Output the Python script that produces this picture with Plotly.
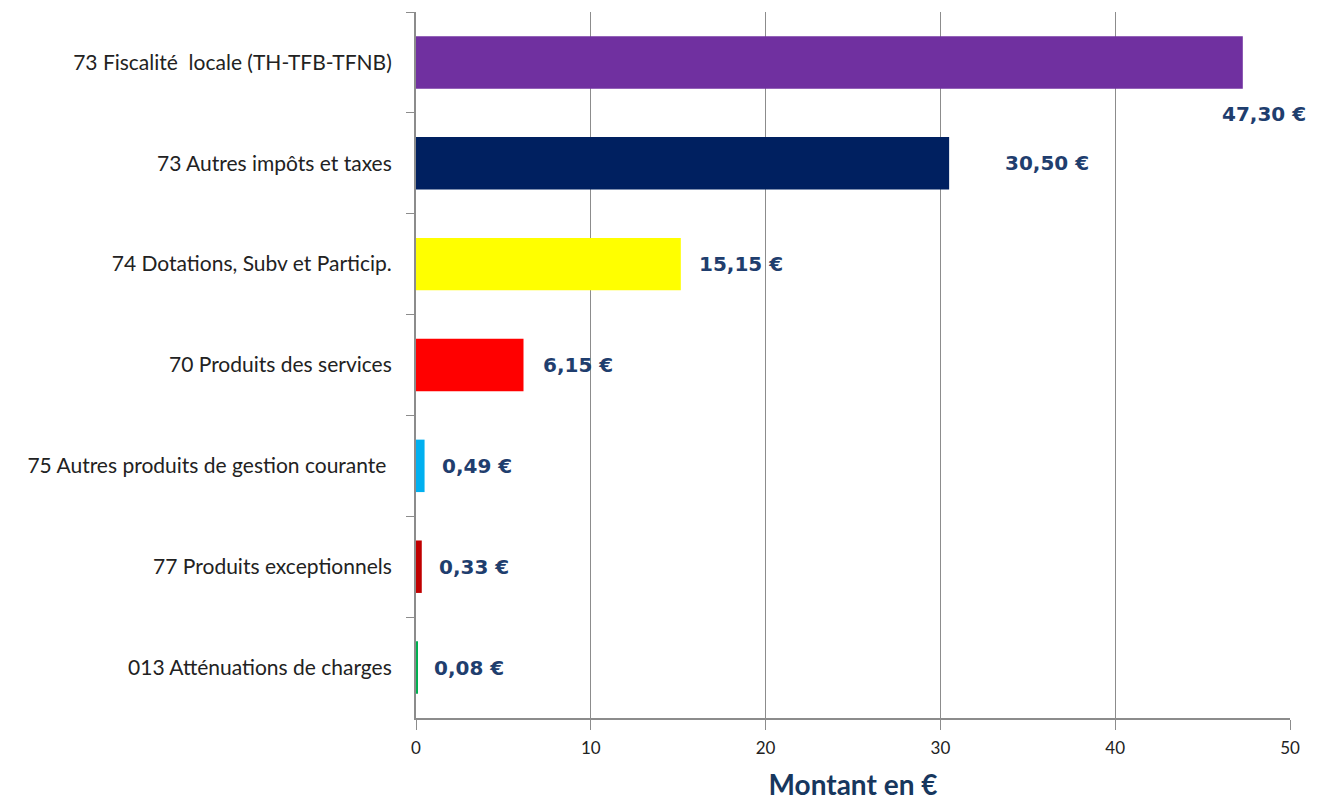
import plotly.graph_objects as go

categories = [
    "73 Fiscalité  locale (TH-TFB-TFNB)",
    "73 Autres impôts et taxes",
    "74 Dotations, Subv et Particip.",
    "70 Produits des services",
    "75 Autres produits de gestion courante ",
    "77 Produits exceptionnels",
    "013 Atténuations de charges",
]
values = [47.30, 30.50, 15.15, 6.15, 0.49, 0.33, 0.08]
value_labels = ["47,30 €", "30,50 €", "15,15 €", "6,15 €", "0,49 €", "0,33 €", "0,08 €"]
tick_values = [0, 10, 20, 30, 40, 50]

bar_colors = ["#7030A0", "#002060", "#FFFF00", "#FF0000", "#00B0F0", "#C00000", "#00B050"]
label_xshift = [-23, 54, 16, 17, 15, 15, 15]
label_yshift = [-52, 0, 0, 0, 0, 0, 0]

fig = go.Figure()
fig.add_trace(go.Bar(
    x=values, y=categories, orientation="h",
    marker=dict(color=bar_colors, line=dict(width=0)),
    width=0.52, hoverinfo="skip",
))

for v, c, t, xs, ys in zip(values, categories, value_labels, label_xshift, label_yshift):
    fig.add_annotation(
        x=v, y=c, text=t, showarrow=False, xanchor="left", yanchor="middle",
        xshift=xs, yshift=ys,
        font=dict(family="DejaVu Sans, sans-serif", size=20, color="#1F3E6E", weight="bold"),
    )

fig.update_layout(
    width=1324, height=800,
    margin=dict(l=408, r=42, t=4, b=90, autoexpand=False),
    paper_bgcolor="white", plot_bgcolor="white",
    showlegend=False,
    font=dict(family="Lato, Open Sans, sans-serif", color="#222222"),
)
fig.update_xaxes(
    range=[0, 50], tickvals=tick_values,
    showgrid=True, gridcolor="#8C8C8C", gridwidth=1.3,
    showline=True, linecolor="#8C8C8C", linewidth=2,
    ticks="outside", ticklen=10, tickcolor="#8C8C8C", tickwidth=1.3,
    tickfont=dict(size=17, color="#222222"),
    ticklabelstandoff=4,
    zeroline=False, automargin=False,
    title=dict(text="Montant en €", standoff=18,
               font=dict(size=28, color="#17375E", family="Lato, Open Sans, sans-serif", weight="bold")),
)
fig.update_yaxes(
    type="category", range=[6.5, -0.5], automargin=False,
    showline=True, linecolor="#8C8C8C", linewidth=2,
    ticks="outside", ticklen=8, tickcolor="#8C8C8C", tickwidth=1.3,
    tickson="boundaries", showgrid=False,
    tickfont=dict(size=21, color="#222222"),
    ticklabelstandoff=18,
)

fig.write_html("out.html")
